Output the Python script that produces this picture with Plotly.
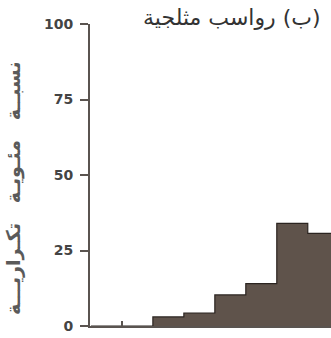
import plotly.graph_objects as go

# Class edges (bin units) and percentage frequency in each class
bin_edges = [0, 1, 2, 3, 4, 5, 6, 7, 8]
frequency = [0, 0, 3, 4.3, 10.3, 14, 34, 30.7]
y_ticks = [0, 25, 50, 75, 100]
# RLE ... PDF keeps the Arabic title in right-to-left order
title_text = "\u202B(ب) رواسب مثلجية\u202C"
y_title = "\u202Bنسبــة   مئـويـة   تكـراريـــة\u202C"

# step outline: repeat the last value so the final class is closed
step_y = frequency + [frequency[-1]]

fig = go.Figure()
fig.add_trace(go.Scatter(
    x=bin_edges, y=step_y,
    mode="lines", line=dict(shape="hv", color="#2b2420", width=1.2),
    fill="tozeroy", fillcolor="#5f534b",
    hoverinfo="skip", showlegend=False,
))

axis_col = "#5a5450"
fig.update_layout(
    width=331, height=338,
    margin=dict(l=90, r=0, t=24, b=12),
    paper_bgcolor="white", plot_bgcolor="white",
    xaxis=dict(range=[-0.03, 7.75], showgrid=False, zeroline=False,
               showline=True, linecolor=axis_col, linewidth=2,
               tickvals=[1], ticks="inside", ticklen=5, tickwidth=1.5,
               tickcolor=axis_col, showticklabels=False),
    yaxis=dict(range=[0, 100], showgrid=False, zeroline=False,
               showline=True, linecolor=axis_col, linewidth=2,
               tickvals=y_ticks, ticktext=[str(v) for v in y_ticks],
               ticks="outside", ticklen=8, tickwidth=1.5, tickcolor=axis_col,
               ticklabelstandoff=4,
               tickfont=dict(family="DejaVu Sans", size=14, color="#444",
                             weight="bold"),
               ),
    annotations=[
        dict(text=title_text, xref="paper", yref="paper", x=0.589, y=1.023,
             showarrow=False, xanchor="center", yanchor="middle",
             font=dict(family="DejaVu Sans", size=22, color="#333")),
        dict(text=y_title, xref="paper", yref="paper", x=-0.315, y=0.457,
             showarrow=False, xanchor="center", yanchor="middle", textangle=-90,
             font=dict(family="DejaVu Sans", size=19, color="#5a5a5a",
                       weight="bold")),
    ],
)
fig.write_html("out.html")
